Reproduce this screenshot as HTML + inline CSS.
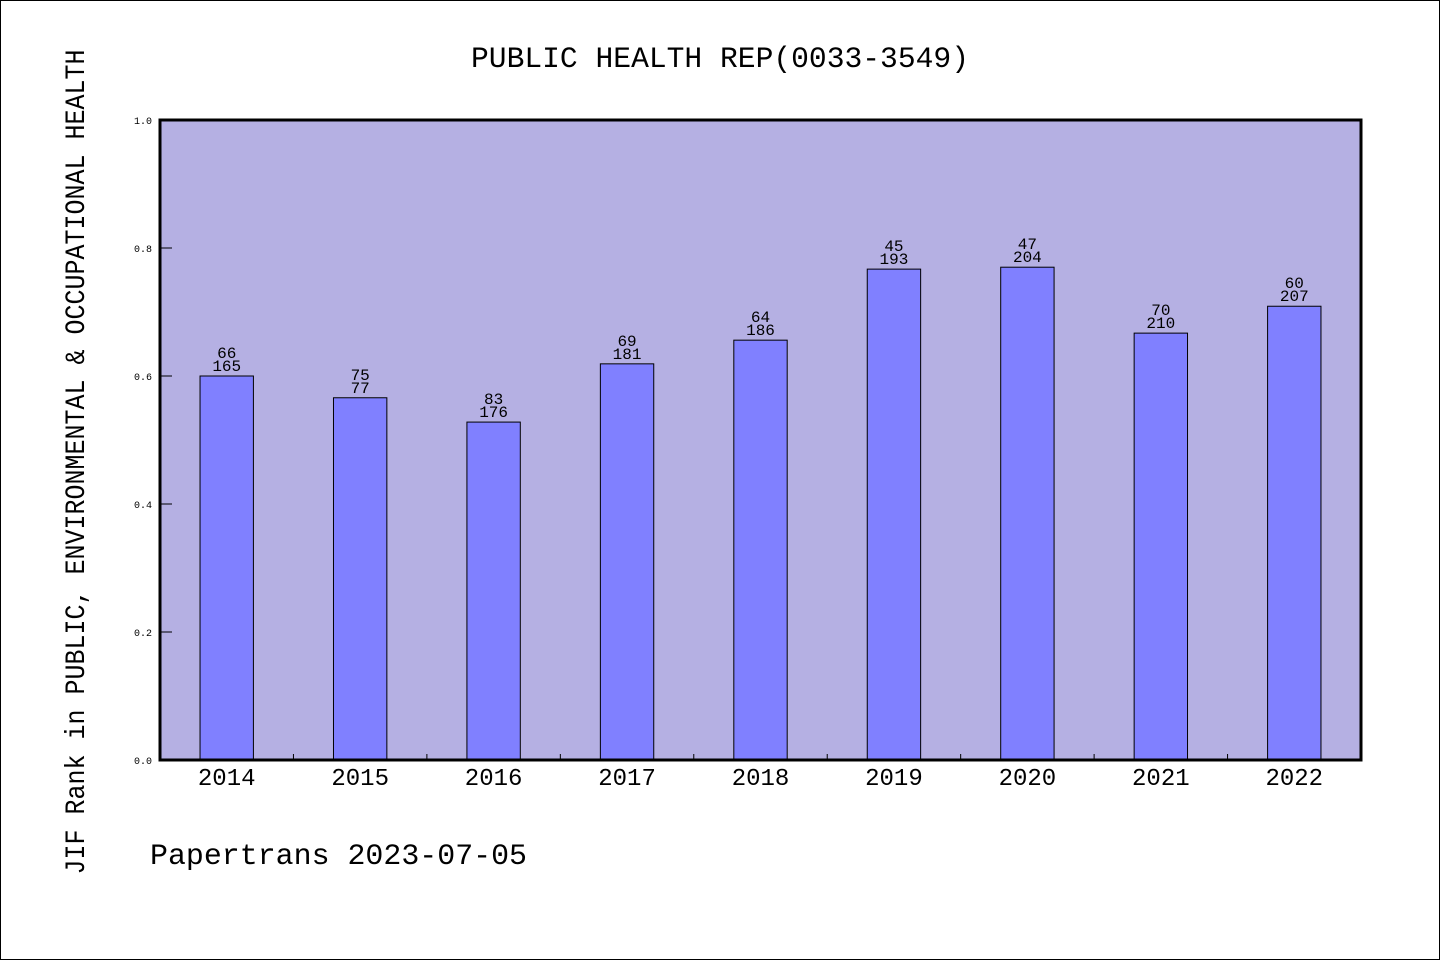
<!DOCTYPE html>
<html><head><meta charset="utf-8"><style>
html,body{margin:0;padding:0;background:#fff}
svg{display:block}
text{font-family:"Liberation Mono","WenQuanYi Zen Hei",monospace;fill:#000}
</style></head><body>
<svg id="chart" width="1440" height="960" xmlns="http://www.w3.org/2000/svg">
<rect x="0.5" y="0.5" width="1439" height="959" fill="#fff" stroke="#000"/>
<text x="720" y="67" text-anchor="middle" font-size="30" textLength="498" lengthAdjust="spacingAndGlyphs">PUBLIC HEALTH REP(0033-3549)</text>
<rect x="160" y="120" width="1201" height="640" fill="#b5b0e3"/>
<g id="grid"></g>
<g id="bars"></g>
<rect x="160" y="120" width="1201" height="640" fill="none" stroke="#000" stroke-width="3"/>
<text transform="translate(84,462) rotate(-90)" text-anchor="middle" font-size="28" textLength="825" lengthAdjust="spacingAndGlyphs">JIF Rank in PUBLIC, ENVIRONMENTAL &amp; OCCUPATIONAL HEALTH</text>
<text x="150" y="864" font-size="30" textLength="377" lengthAdjust="spacingAndGlyphs">Papertrans 2023-07-05</text>
</svg>
<script>
const years = ["2014","2015","2016","2017","2018","2019","2020","2021","2022"];
const values = [0.600,0.566,0.528,0.619,0.656,0.767,0.770,0.667,0.709];
const ranks = ["66","75","83","69","64","45","47","70","60"];
const totals = ["165","77","176","181","186","193","204","210","207"];
const yTicks = [0,0.2,0.4,0.6,0.8,1.0];
const yTickLabels = ["0.0","0.2","0.4","0.6","0.8","1.0"];
const NS="http://www.w3.org/2000/svg";
const X0=160,X1=1361,Y0=760,Y1=120;
const band=(X1-X0)/years.length;
function xs(i){return X0+band*(i+0.5);}
function ys(v){return Y0-(Y0-Y1)*v;}
function mk(t,a,p){const e=document.createElementNS(NS,t);for(const k in a)e.setAttribute(k,a[k]);p.appendChild(e);return e;}
const grid=document.getElementById('grid'),bars=document.getElementById('bars');
yTicks.forEach((v,i)=>{
  const l=mk('line',{x1:X0,x2:X0+12,y1:ys(v),y2:ys(v),stroke:'#000','stroke-width':1},grid);
  
  
  const t=mk('text',{x:152,y:ys(v)+4,'text-anchor':'end','font-size':10},grid);
  t.textContent=yTickLabels[i];
  
  
});
for(let i=1;i<years.length;i++){
  const x=X0+band*i;
  const l=mk('line',{x1:x,x2:x,y1:Y0,y2:Y0-6,stroke:'#000','stroke-width':1},grid);
  
  
}
const bw=band*0.4;
years.forEach((y,i)=>{
  const cx=xs(i),top=ys(values[i]);
  const r=mk('rect',{x:cx-bw/2,y:top,width:bw,height:Y0-top,fill:'#8080ff',stroke:'#000','stroke-width':1},bars);
  
  
  const t1=mk('text',{x:cx,y:top-18,'text-anchor':'middle','font-size':16},bars);
  t1.textContent=ranks[i];
  
  
  const t2=mk('text',{x:cx,y:top-5,'text-anchor':'middle','font-size':16},bars);
  t2.textContent=totals[i];
  
  
  const xl=mk('text',{x:cx,y:785,'text-anchor':'middle','font-size':24},bars);
  xl.textContent=y;
  
  
});
</script>
</body></html>
